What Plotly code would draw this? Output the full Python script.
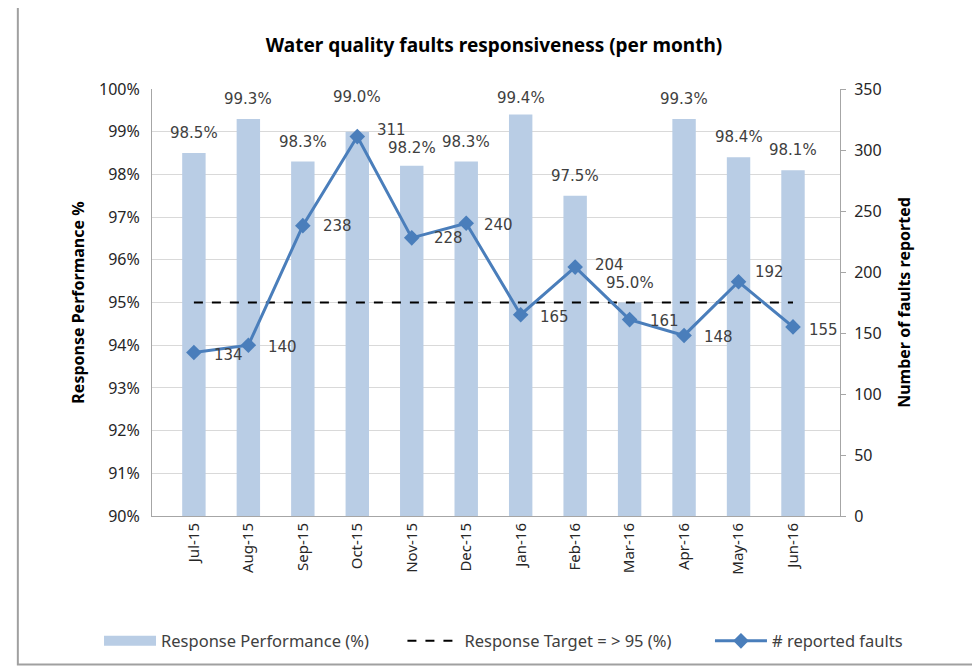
import plotly.graph_objects as go

months = ["Jul-15", "Aug-15", "Sep-15", "Oct-15", "Nov-15", "Dec-15",
          "Jan-16", "Feb-16", "Mar-16", "Apr-16", "May-16", "Jun-16"]
performance = [98.5, 99.3, 98.3, 99.0, 98.2, 98.3, 99.4, 97.5, 95.0, 99.3, 98.4, 98.1]
target = [95] * 12
faults = [134, 140, 238, 311, 228, 240, 165, 204, 161, 148, 192, 155]

# label offsets (pixels) for styling only
perf_label_shift = [20, 20, 20, 35, 18, 20, 17, 20, 20, 20, 20, 20]
fault_label_yshift = [-2, -2, 0, 7, 0, -2, -2, 2, -1, -2, 10, -3]
fault_label_xshift = [18, 18, 18, 18, 20, 16, 17, 18, 18, 18, 14, 14]

BAR = "#B9CDE5"
LINE = "#4A7EBB"
TXT = "#404040"
FONT = "Noto Sans"

fig = go.Figure()
fig.add_trace(go.Bar(x=months, y=performance, name="Response Performance (%)",
                     marker=dict(color=BAR, line=dict(width=0)), yaxis="y",
                     showlegend=False))
# legend-only entry for the bars (wide swatch like the original)
fig.add_trace(go.Scatter(x=[None], y=[None], name="Response Performance (%)",
                         mode="lines", line=dict(color=BAR, width=10), yaxis="y",
                         legend="legend"))
fig.add_trace(go.Scatter(x=months, y=target, name="Response Target = > 95 (%)",
                         mode="lines", line=dict(color="black", width=2, dash="dash"),
                         yaxis="y", legend="legend2"))
fig.add_trace(go.Scatter(x=months, y=faults, name="# reported faults",
                         mode="lines+markers",
                         line=dict(color=LINE, width=3),
                         marker=dict(symbol="diamond", size=12, color=LINE),
                         yaxis="y2", legend="legend3"))

annotations = []
for m, v, s in zip(months, performance, perf_label_shift):
    annotations.append(dict(x=m, y=v, xref="x", yref="y", text=f"{v:.1f}%",
                            showarrow=False, yshift=s,
                            font=dict(family="DejaVu Sans", size=15, color=TXT)))
for m, v, xs, ys in zip(months, faults, fault_label_xshift, fault_label_yshift):
    annotations.append(dict(x=m, y=v, xref="x", yref="y2", text=str(v),
                            showarrow=False, xanchor="left", xshift=xs, yshift=ys,
                            font=dict(family="DejaVu Sans", size=15, color=TXT)))

leg_common = dict(orientation="h", y=-0.29, yanchor="middle", xanchor="left",
                  font=dict(family=FONT, size=16.5, color=TXT), itemwidth=52,
                  bgcolor="rgba(0,0,0,0)")

fig.update_layout(
    width=972, height=661,
    margin=dict(l=144, r=140, t=81, b=152),
    paper_bgcolor="white", plot_bgcolor="white",
    font=dict(family=FONT, color=TXT),
    title=dict(text="<b>Water quality faults responsiveness (per month)</b>",
               x=0.5, xanchor="center", y=0.944, yanchor="middle",
               font=dict(family=FONT, size=19, color="black")),
    bargap=0.57,
    showlegend=True,
    legend=dict(x=-0.077, **leg_common),
    legend2=dict(x=0.364, **leg_common),
    legend3=dict(x=0.811, **leg_common),
    xaxis=dict(type="category", tickangle=-90, showgrid=False,
               showline=True, linecolor="#A6A6A6", linewidth=1,
               tickfont=dict(family=FONT, size=15, color="#262626"),
               ticks="", ticklen=0),
    yaxis=dict(range=[90, 100], dtick=1, ticksuffix="%",
               showgrid=True, gridcolor="#D9D9D9", gridwidth=1,
               showline=True, linecolor="#A6A6A6", linewidth=1,
               zeroline=False, ticks="", ticklabelstandoff=8,
               tickfont=dict(family=FONT, size=16, color="#262626"),
               title=dict(text="<b>Response Performance %</b>", standoff=10,
                          font=dict(family=FONT, size=16, color="black"))),
    yaxis2=dict(range=[0, 350], dtick=50, overlaying="y", side="right",
                showgrid=False, showline=True, linecolor="#A6A6A6", linewidth=1,
                zeroline=False, ticks="outside", ticklen=5, tickcolor="#A6A6A6",
                ticklabelstandoff=5,
                tickfont=dict(family=FONT, size=16, color="#262626"),
                title=dict(text="<b>Number of faults reported</b>", standoff=18,
                           font=dict(family=FONT, size=16, color="black"))),
    annotations=annotations,
    shapes=[dict(type="rect", xref="paper", yref="paper",
                 x0=-0.195, x1=1.199, y0=-0.348, y1=1.196,
                 line=dict(color="#A0A0A0", width=2), layer="below")],
)

fig.write_html("out.html")
